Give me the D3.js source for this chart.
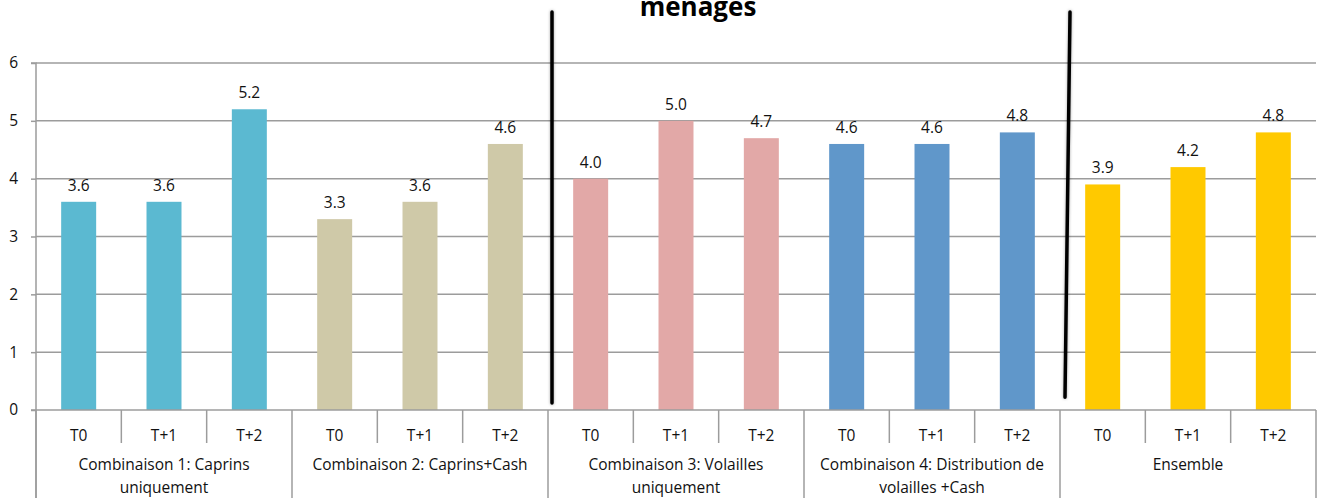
<!DOCTYPE html>
<html>
<head>
<meta charset="utf-8">
<script src="https://cdn.jsdelivr.net/npm/d3@7"></script>
<style>
  html, body { margin: 0; padding: 0; background: #fff; }
  svg { display: block; font-family: "Open Sans", "Noto Sans", sans-serif; }
</style>
</head>
<body>
<svg id="chart" width="1320" height="498"></svg>
<script>
// Group labels (each entry is the list of lines drawn under the group)
const groups = [
  ["Combinaison 1: Caprins", "uniquement"],
  ["Combinaison 2: Caprins+Cash"],
  ["Combinaison 3: Volailles", "uniquement"],
  ["Combinaison 4: Distribution de", "volailles +Cash"],
  ["Ensemble"]
];
const periods = ["T0", "T+1", "T+2"];
const groupColors = ["#5bb9d1", "#cfc9a8", "#e2a8a7", "#6097ca", "#ffc900"];

// Mean values per group, one per period
const comb1 = [3.6, 3.6, 5.2];
const comb2 = [3.3, 3.6, 4.6];
const comb3 = [4.0, 5.0, 4.7];
const comb4 = [4.6, 4.6, 4.8];
const ensemble = [3.9, 4.2, 4.8];
const seriesValues = [comb1, comb2, comb3, comb4, ensemble];

const yTicks = [0, 1, 2, 3, 4, 5, 6];
const titleText = "menages";

// Flattened rows: one per bar
const rows = [];
seriesValues.forEach((vals, g) => {
  vals.forEach((v, p) => rows.push({ g, p, key: g + "-" + p, value: v }));
});

const svg = d3.select("#chart");
const margin = { left: 36, right: 4, top: 63, bottom: 88 };
const W = 1320, H = 498;
const plotBottom = H - margin.bottom;
const fontSize = "15.5px";

const x = d3.scaleBand()
  .domain(rows.map(d => d.key))
  .range([margin.left, W - margin.right])
  .paddingInner(0).paddingOuter(0);

const y = d3.scaleLinear().domain([0, 6]).range([plotBottom, margin.top]);

const gridColor = "#9c9c9c";

// Horizontal gridlines
svg.append("g")
  .selectAll("line")
  .data(yTicks.filter(t => t > 0))
  .join("line")
  .attr("x1", margin.left).attr("x2", W - margin.right)
  .attr("y1", d => y(d)).attr("y2", d => y(d))
  .attr("stroke", gridColor).attr("stroke-width", 1.5);

// Y axis
const yAxis = svg.append("g")
  .attr("transform", `translate(${margin.left},0)`)
  .call(d3.axisLeft(y).tickValues(yTicks).tickSize(5).tickPadding(13).tickFormat(d3.format("d")));
yAxis.select(".domain").attr("stroke", gridColor).attr("stroke-width", 1.5)
  .attr("d", `M-5,${y(6)}H0V${H}`);
yAxis.selectAll(".tick line").attr("stroke", gridColor).attr("stroke-width", 1.5);
yAxis.selectAll(".tick text").attr("fill", "#111").style("font-size", fontSize)
  .style("font-family", "'Open Sans', sans-serif");

// Bars
const barW = x.bandwidth() * 0.41;
svg.append("g")
  .selectAll("rect")
  .data(rows)
  .join("rect")
  .attr("x", d => x(d.key) + (x.bandwidth() - barW) / 2)
  .attr("width", barW)
  .attr("y", d => y(d.value))
  .attr("height", d => y(0) - y(d.value))
  .attr("fill", d => groupColors[d.g]);

// Value labels
svg.append("g")
  .selectAll("text")
  .data(rows)
  .join("text")
  .attr("x", d => x(d.key) + x.bandwidth() / 2)
  .attr("y", d => y(d.value) - 11)
  .attr("text-anchor", "middle")
  .attr("fill", "#111")
  .style("font-size", fontSize)
  .text(d => d3.format(".1f")(d.value));

// Category axis baseline
svg.append("line")
  .attr("x1", margin.left - 5).attr("x2", W - margin.right)
  .attr("y1", y(0)).attr("y2", y(0))
  .attr("stroke", gridColor).attr("stroke-width", 1.5);

// Dividers between periods (short) and between groups (full depth)
const cat = svg.append("g");
rows.forEach(d => {
  const left = x(d.key);
  const isGroupEdge = d.p === 0;
  cat.append("line")
    .attr("x1", left).attr("x2", left)
    .attr("y1", y(0)).attr("y2", isGroupEdge ? H : y(0) + 33)
    .attr("stroke", gridColor).attr("stroke-width", 1.5);
});
cat.append("line")
  .attr("x1", x.range()[1]).attr("x2", x.range()[1])
  .attr("y1", y(0)).attr("y2", H)
  .attr("stroke", gridColor).attr("stroke-width", 1.5);

// Period labels
cat.selectAll("text.period")
  .data(rows)
  .join("text")
  .attr("class", "period")
  .attr("x", d => x(d.key) + x.bandwidth() / 2)
  .attr("y", y(0) + 31)
  .attr("text-anchor", "middle")
  .attr("fill", "#111")
  .style("font-size", fontSize)
  .text(d => periods[d.p]);

// Group labels
groups.forEach((lines, g) => {
  const x0 = x(g + "-0");
  const x1 = x(g + "-2") + x.bandwidth();
  const t = cat.append("text")
    .attr("x", (x0 + x1) / 2)
    .attr("text-anchor", "middle")
    .attr("fill", "#111")
    .style("font-size", fontSize);
  lines.forEach((ln, k) => {
    t.append("tspan")
      .attr("x", (x0 + x1) / 2)
      .attr("y", y(0) + 60 + k * 23)
      .text(ln);
  });
});

// Hand-drawn separators between groups 2|3 and 4|5
const separators = [
  { before: "2-0", dxTop: 4, dxBottom: 4, bottomVal: 0.12 },
  { before: "4-0", dxTop: 10, dxBottom: 5, bottomVal: 0.22 }
];
svg.append("g")
  .selectAll("line")
  .data(separators)
  .join("line")
  .attr("x1", d => x(d.before) + d.dxTop)
  .attr("x2", d => x(d.before) + d.dxBottom)
  .attr("y1", y(6) - 51)
  .attr("y2", d => y(d.bottomVal))
  .attr("stroke", "#000")
  .attr("stroke-width", 3.5)
  .attr("stroke-linecap", "round")
  .style("filter", "drop-shadow(0px 0px 1.5px rgba(0,0,0,0.35))");

// Title (only its last line falls inside the frame)
svg.append("text")
  .attr("x", 698)
  .attr("y", 16)
  .attr("text-anchor", "middle")
  .attr("fill", "#000")
  .style("font-size", "26px")
  .style("font-weight", "bold")
  .text(titleText);
</script>
</body>
</html>
